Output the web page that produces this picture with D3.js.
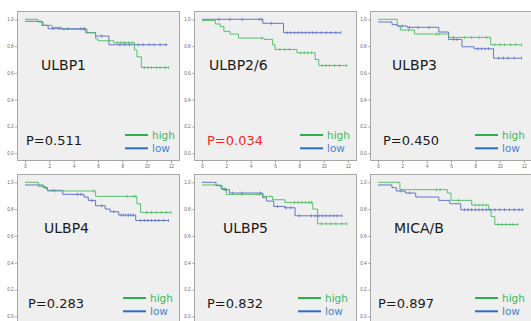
<!DOCTYPE html>
<html><head><meta charset="utf-8">
<script src="https://cdn.jsdelivr.net/npm/d3@7"></script>
<style>
html,body{margin:0;padding:0;background:#fff;}
svg{display:block;font-family:"DejaVu Sans",Verdana,sans-serif;}
</style></head>
<body><svg id="c" width="531" height="321"></svg>
<script>
// ---------- data ----------
const genes = ["ULBP1", "ULBP2/6", "ULBP3", "ULBP4", "ULBP5", "MICA/B"];
const pValues = ["0.511", "0.034", "0.450", "0.283", "0.832", "0.897"];
const seriesNames = ["high", "low"];
const xTicks = [0, 2, 4, 6, 8, 10, 12];
const yTicks = [0.0, 0.2, 0.4, 0.6, 0.8, 1.0];

// Kaplan-Meier steps: [time, survival after that time]; last point = end of follow-up
const ulbp1High = [[0,1.0],[1.07,0.98],[1.5,0.955],[2.2,0.94],[3.0,0.925],[5.1,0.90],[5.8,0.855],[6.0,0.84],[7.3,0.825],[9.0,0.77],[9.2,0.72],[9.56,0.64],[11.8,0.64]];
const ulbp1Low  = [[0,0.985],[1.4,0.955],[1.9,0.93],[5.0,0.90],[5.8,0.875],[6.9,0.81],[11.7,0.81]];
const ulbp1HighCensor = [3.2,4.8,7.6,7.9,8.1,8.3,8.5,8.8,9.8,10.1,10.4,10.8,11.1,11.5,11.8];
const ulbp1LowCensor  = [2.3,2.8,3.5,4.6,4.9,6.3,7.8,8.2,8.6,9.0,9.3,9.7,10.2,10.6,11.1,11.6];

const ulbp26High = [[0,0.99],[1.1,0.965],[1.5,0.945],[1.8,0.91],[2.3,0.89],[3.0,0.86],[5.1,0.85],[5.8,0.81],[6.0,0.775],[7.8,0.75],[9.3,0.70],[9.6,0.655],[11.9,0.655]];
const ulbp26Low  = [[0,1.0],[5.0,0.97],[6.7,0.90],[11.4,0.90]];
const ulbp26HighCensor = [4.9,6.4,6.8,7.2,8.1,8.4,8.7,9.0,9.9,10.2,10.5,10.9,11.3,11.9];
const ulbp26LowCensor  = [1.4,2.3,3.3,4.7,4.9,5.7,7.0,7.3,7.6,7.9,8.2,8.5,8.8,9.1,9.4,9.8,10.2,10.6,11.0,11.4];

const ulbp3High = [[0,1.0],[1.57,0.95],[1.84,0.92],[3.0,0.89],[5.8,0.865],[9.26,0.81],[11.8,0.81]];
const ulbp3Low  = [[0,0.98],[1.15,0.96],[1.6,0.95],[2.4,0.94],[5.0,0.905],[5.8,0.85],[6.9,0.795],[7.9,0.78],[9.5,0.71],[11.8,0.71]];
const ulbp3HighCensor = [2.5,4.8,5.0,6.2,7.1,7.7,8.3,8.9,9.6,10.0,10.4,10.9,11.3,11.8];
const ulbp3LowCensor  = [2.0,2.6,3.3,4.2,6.2,6.5,8.2,8.5,8.8,9.1,9.9,10.3,10.7,11.2,11.8];

const ulbp4High = [[0,1.0],[1.1,0.97],[1.7,0.95],[1.85,0.935],[5.8,0.895],[9.2,0.84],[9.5,0.775],[12.0,0.775]];
const ulbp4Low  = [[0,0.98],[1.5,0.96],[1.85,0.94],[3.1,0.91],[4.85,0.89],[5.2,0.865],[5.8,0.825],[6.6,0.80],[7.0,0.78],[7.7,0.755],[9.1,0.715],[11.8,0.715]];
const ulbp4HighCensor = [2.5,5.6,8.4,8.9,9.1,10.0,10.4,10.8,11.2,11.6,12.0];
const ulbp4LowCensor  = [2.3,4.3,4.6,5.5,6.3,7.3,7.9,8.1,8.3,8.5,8.7,8.9,9.5,9.8,10.1,10.4,10.7,11.0,11.4,11.8];

const ulbp5High = [[0,0.98],[1.55,0.955],[2.0,0.91],[5.0,0.895],[5.8,0.87],[6.8,0.85],[9.1,0.80],[9.5,0.69],[11.9,0.69]];
const ulbp5Low  = [[0,1.0],[1.15,0.975],[1.65,0.945],[2.25,0.92],[5.0,0.885],[5.3,0.86],[5.9,0.82],[6.8,0.81],[7.65,0.75],[11.5,0.75]];
const ulbp5HighCensor = [3.3,4.7,7.6,7.9,8.2,8.5,8.8,9.0,9.8,10.2,10.6,11.0,11.5,11.9];
const ulbp5LowCensor  = [1.9,2.5,3.3,4.8,6.2,6.9,7.3,8.0,9.0,9.3,9.6,9.9,10.2,10.5,10.8,11.1,11.5];

const micabHigh = [[0,1.0],[1.8,0.945],[5.7,0.92],[6.0,0.865],[7.7,0.83],[9.1,0.795],[9.3,0.745],[9.6,0.685],[11.5,0.685]];
const micabLow  = [[0,0.98],[1.15,0.96],[1.5,0.935],[2.25,0.92],[3.1,0.89],[5.0,0.865],[5.9,0.84],[6.8,0.795],[11.9,0.795]];
const micabHighCensor = [4.8,5.1,6.6,8.0,8.3,8.6,8.9,9.9,10.2,10.5,10.8,11.1,11.5];
const micabLowCensor  = [1.9,2.6,7.1,7.4,7.7,8.0,8.3,8.6,8.9,9.2,9.6,10.0,10.4,10.8,11.2,11.6,11.9];

const highCurves = [ulbp1High, ulbp26High, ulbp3High, ulbp4High, ulbp5High, micabHigh];
const lowCurves  = [ulbp1Low, ulbp26Low, ulbp3Low, ulbp4Low, ulbp5Low, micabLow];
const highCensors = [ulbp1HighCensor, ulbp26HighCensor, ulbp3HighCensor, ulbp4HighCensor, ulbp5HighCensor, micabHighCensor];
const lowCensors  = [ulbp1LowCensor, ulbp26LowCensor, ulbp3LowCensor, ulbp4LowCensor, ulbp5LowCensor, micabLowCensor];

// ---------- layout ----------
const colLeft = [17, 194, 370];
const rowTop = [11, 174];
const panelW = 162, panelH = 149;
const nameDx = [24, 15, 22, 27, 29, 24];
const pDx = [9, 13, 13, 11, 13, 8];
const legDx = [108, 106, 105, 106, 104, 105];

const C = {
  bg: "#efefef", frame: "#a8a8a8",
  high: "#41b95a", low: "#4f62c4",
  legHigh: "#29b24a", legLow: "#2f6fc0",
  txtHigh: "#3dba5c", txtLow: "#4a84cc"
};

const svg = d3.select("#c");

genes.forEach((g, i) => {
  const row = Math.floor(i / 3);
  const left = colLeft[i % 3], top = rowTop[row];
  const x = d3.scaleLinear().domain([0, 12]).range([left + 8, left + 154]);
  const y = d3.scaleLinear().domain([0, 1]).range([top + 142.3, top + 8.3]);
  const p = svg.append("g");

  p.append("rect").attr("x", left + 0.5).attr("y", top + 0.5)
    .attr("width", panelW).attr("height", panelH)
    .attr("fill", C.bg).attr("stroke", C.frame).attr("stroke-width", 1);

  // axes
  const yAx = d3.axisLeft(y).tickValues(yTicks).tickFormat(d3.format(".1f")).tickSize(3).tickPadding(1);
  const ya = p.append("g").attr("transform", `translate(${left + 0.5},0)`).call(yAx);
  const axes = [ya];
  if (row === 0) { // bottom row's x axis lies below the visible area in the reference
    const xAx = d3.axisBottom(x).tickValues(xTicks).tickFormat(d3.format("d")).tickSize(3).tickPadding(1);
    axes.push(p.append("g").attr("transform", `translate(0,${top + panelH + 0.5})`).call(xAx));
  }
  axes.forEach(a => {
    a.select(".domain").remove();
    a.selectAll("line").attr("stroke", "#777").attr("stroke-width", 0.6);
    a.selectAll("text").attr("fill", "#666").style("font-size", "4.5px");
  });

  const line = d3.line().x(d => x(d[0])).y(d => y(d[1])).curve(d3.curveStepAfter);
  const stepAt = (curve, t) => { let s = curve[0][1]; curve.forEach(d => { if (d[0] <= t) s = d[1]; }); return s; };

  [[lowCurves[i], lowCensors[i], C.low], [highCurves[i], highCensors[i], C.high]].forEach(([cv, cs, col]) => {
    p.append("path").datum(cv).attr("d", line)
      .attr("fill", "none").attr("stroke", col).attr("stroke-width", 1).attr("opacity", 0.85);
    p.selectAll(null).data(cs).enter().append("line")
      .attr("x1", t => x(t)).attr("x2", t => x(t))
      .attr("y1", t => y(stepAt(cv, t)) - 1.5).attr("y2", t => y(stepAt(cv, t)) + 1.5)
      .attr("stroke", col).attr("stroke-width", 0.8).attr("opacity", 0.85);
  });

  // labels
  p.append("text").attr("x", left + nameDx[i]).attr("y", top + 58.5)
    .attr("fill", "#1a1a1a").style("font-size", "14px").text(g);
  p.append("text").attr("x", left + pDx[i]).attr("y", top + 133.5)
    .attr("fill", i === 1 ? "#f0282a" : "#1a1a1a").style("font-size", "13px").text("P=" + pValues[i]);

  seriesNames.forEach((s, k) => {
    const ly = top + 124 + k * 13.3;
    const lx = left + legDx[i];
    p.append("line").attr("x1", lx).attr("x2", lx + 23).attr("y1", ly).attr("y2", ly)
      .attr("stroke", k === 0 ? C.legHigh : C.legLow).attr("stroke-width", 2);
    p.append("text").attr("x", lx + 27).attr("y", ly + 3.6)
      .attr("fill", k === 0 ? C.txtHigh : C.txtLow).style("font-size", "10.5px").text(s);
  });
});
</script>
</body></html>
